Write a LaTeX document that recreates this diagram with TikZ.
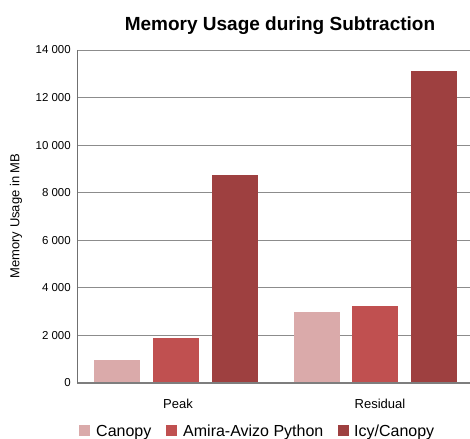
\documentclass[tikz,border=0pt]{standalone}
\usepackage{fontspec}
\setmainfont{Liberation Sans}
\definecolor{cCan}{HTML}{DAAAAA}
\definecolor{cAmi}{HTML}{C05050}
\definecolor{cIcy}{HTML}{9E4040}
\definecolor{gridc}{HTML}{8C8C8C}
\begin{document}
\begin{tikzpicture}[x=1pt,y=-1pt,
  grid/.style={draw=gridc,line width=0.9pt},
  tick/.style={anchor=east,font=\fontsize{11.5}{13}\selectfont,inner sep=0pt},
  cat/.style={font=\fontsize{13}{15}\selectfont,inner sep=0pt,anchor=base},
  leg/.style={font=\fontsize{16}{18}\selectfont,anchor=base west,inner sep=0pt}]
\useasboundingbox (0,0) rectangle (470,438);
\node[font=\bfseries\fontsize{19}{21}\selectfont,anchor=base,inner sep=0pt] (title) at (280,31) {Memory Usage during Subtraction};
% grid
\foreach \v/\lab [count=\i] in {0/0,2/2 000,4/4 000,6/6 000,8/8 000,10/10 000,12/12 000,14/14 000}{
  \pgfmathsetmacro\yy{383-\v*333/14}
  \draw[grid] (77,\yy) -- (470,\yy);
  \node[tick] (t\i) at (71,\yy) {\lab};
}
% bars
\fill[cCan] (94,383) rectangle (140,360);
\fill[cAmi] (153,383) rectangle (199,338);
\fill[cIcy] (212,383) rectangle (258,175);
\fill[cCan] (294,383) rectangle (340,312);
\fill[cAmi] (352,383) rectangle (398,306);
\fill[cIcy] (411,383) rectangle (457,71);
\draw[draw=gridc!90!black,line width=1.2pt] (77,383) -- (470,383);
\draw[draw=gridc!80!black,line width=1pt] (77,50) -- (77,383);
% y label
\node[rotate=90,font=\fontsize{13}{15}\selectfont,inner sep=0pt] (ylab) at (16,216) {Memory Usage in MB};
% categories
\node[cat] (peak) at (178,408) {Peak};
\node[cat] (res) at (380,408) {Residual};
% legend
\fill[cCan] (79,425) rectangle (90,436);
\node[leg] (l1) at (96,436) {Canopy};
\fill[cAmi] (166,425) rectangle (177,436);
\node[leg] (l2) at (183,436) {Amira-Avizo Python};
\fill[cIcy] (338,425) rectangle (349,436);
\node[leg] (l3) at (354,436) {Icy/Canopy};
\end{tikzpicture}
\end{document}
